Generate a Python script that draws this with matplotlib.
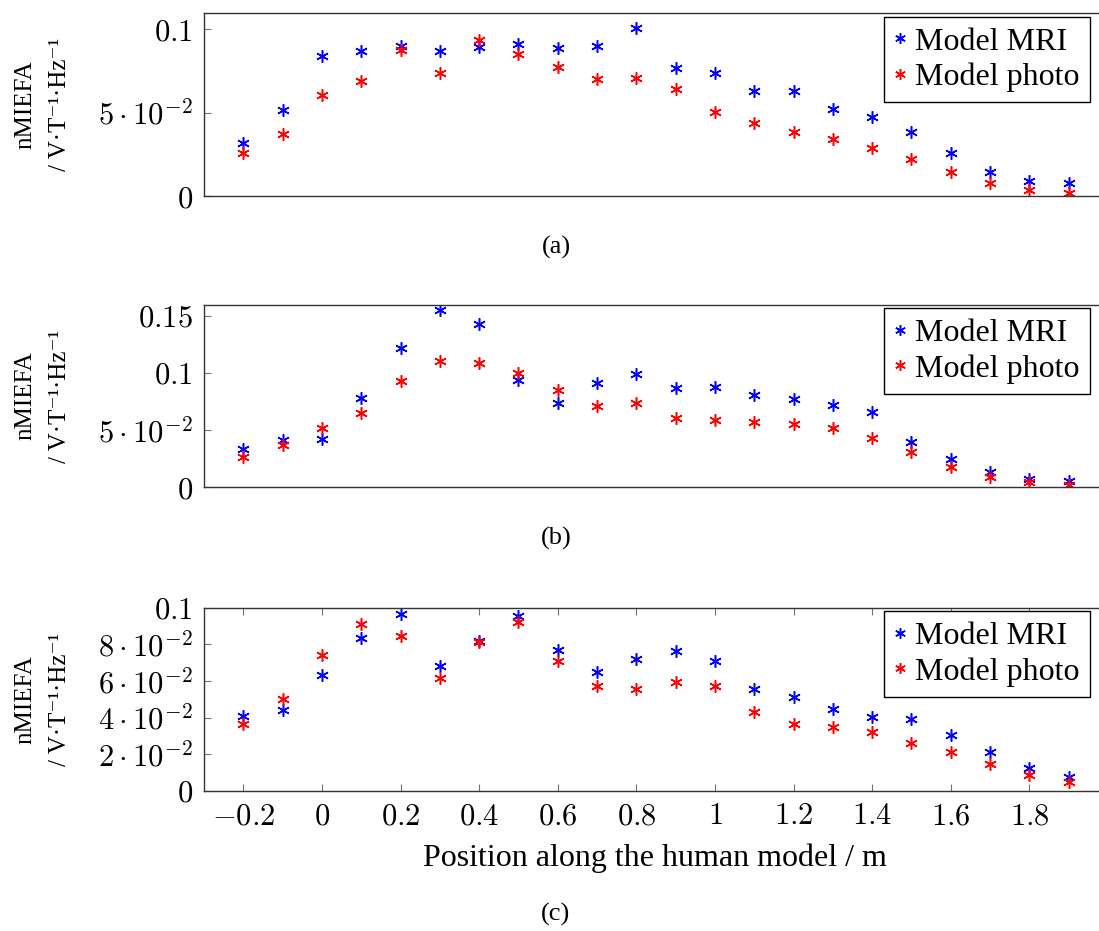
import matplotlib
matplotlib.use("Agg")
from matplotlib import pyplot as plt
from matplotlib.ticker import FixedLocator, FixedFormatter

plt.rcParams['font.family'] = ['Liberation Serif', 'DejaVu Serif']
plt.rcParams['mathtext.fontset'] = 'cm'

# positions along the model (m)
x = [-0.2, -0.1, 0.0, 0.1, 0.2, 0.3, 0.4, 0.5, 0.6, 0.7, 0.8,
     0.9, 1.0, 1.1, 1.2, 1.3, 1.4, 1.5, 1.6, 1.7, 1.8, 1.9]

mri_a = [0.0316, 0.0516, 0.084, 0.087, 0.090, 0.0872, 0.0892, 0.0912, 0.0886, 0.0898, 0.101,
         0.0766, 0.074, 0.0632, 0.063, 0.0522, 0.0472, 0.0384, 0.0256, 0.0142, 0.0092, 0.008]
photo_a = [0.0256, 0.0372, 0.0608, 0.0692, 0.0874, 0.074, 0.0936, 0.0852, 0.0772, 0.070, 0.0706,
           0.064, 0.0506, 0.0436, 0.0382, 0.0344, 0.0286, 0.0224, 0.0146, 0.0076, 0.0036, 0.002]

mri_b = [0.0338, 0.0413, 0.0422, 0.078, 0.1214, 0.1552, 0.143, 0.0938, 0.074, 0.0911, 0.099,
         0.0865, 0.0874, 0.0807, 0.0769, 0.0719, 0.0661, 0.0399, 0.025, 0.0137, 0.007, 0.0055]
photo_b = [0.0265, 0.0367, 0.0518, 0.065, 0.0929, 0.1104, 0.1083, 0.0996, 0.085, 0.0711, 0.074,
           0.0609, 0.0585, 0.0568, 0.055, 0.0515, 0.0428, 0.0306, 0.0175, 0.0087, 0.0044, 0.002]

mri_c = [0.0411, 0.044, 0.0633, 0.0836, 0.0965, 0.068, 0.0818, 0.0953, 0.0767, 0.0651, 0.0718,
         0.0765, 0.0711, 0.0555, 0.0515, 0.0447, 0.0402, 0.0391, 0.0305, 0.0211, 0.0127, 0.0078]
photo_c = [0.0367, 0.0502, 0.0744, 0.0909, 0.0844, 0.0618, 0.0811, 0.092, 0.0709, 0.0573, 0.0556,
           0.0593, 0.0575, 0.0429, 0.0364, 0.0349, 0.0322, 0.0264, 0.0215, 0.0145, 0.0087, 0.0051]

yticks_a = [0, 0.05, 0.1]
ylabels_a = ['$0$', r'$5\cdot10^{-2}$', '$0.1$']
yticks_b = [0, 0.05, 0.1, 0.15]
ylabels_b = ['$0$', r'$5\cdot10^{-2}$', '$0.1$', '$0.15$']
yticks_c = [0, 0.02, 0.04, 0.06, 0.08, 0.1]
ylabels_c = ['$0$', r'$2\cdot10^{-2}$', r'$4\cdot10^{-2}$', r'$6\cdot10^{-2}$',
             r'$8\cdot10^{-2}$', '$0.1$']
xticks_c = [-0.2, 0, 0.2, 0.4, 0.6, 0.8, 1, 1.2, 1.4, 1.6, 1.8]
xlabels_c = ['$-0.2$', '$0$', '$0.2$', '$0.4$', '$0.6$', '$0.8$', '$1$',
             '$1.2$', '$1.4$', '$1.6$', '$1.8$']

W, H = 1099, 931
fig = plt.figure(figsize=(W / 100, H / 100), dpi=100)

star = (6, 2, 0)


def panel(top, bottom, mri, photo, ymax, yt, yl, caption, cap_y, xt=None, xl=None):
    ax = fig.add_axes([204 / W, 1 - bottom / H, 904 / W, (bottom - top) / H])
    ax.plot(x, mri, linestyle='none', marker=star, ms=9, mew=1.1,
            color='#0000ff', label='Model MRI')
    ax.plot(x, photo, linestyle='none', marker=star, ms=9, mew=1.1,
            color='#ff0000', label='Model photo')
    ax.set_xlim(-0.3, 2.0)
    ax.set_ylim(0, ymax)
    ax.yaxis.set_major_locator(FixedLocator(yt))
    ax.yaxis.set_major_formatter(FixedFormatter(yl))
    if xt is None:
        ax.set_xticks([])
    else:
        ax.xaxis.set_major_locator(FixedLocator(xt))
        ax.xaxis.set_major_formatter(FixedFormatter(xl))
    ax.tick_params(direction='in', length=5, width=0.8, color='0.45',
                   labelsize=22, pad=8, left=True, right=True, top=True, bottom=True)
    for s in ax.spines.values():
        s.set_linewidth(1.0)
        s.set_color('0.2')
    leg = ax.legend(loc='upper right', bbox_to_anchor=(0.98, 0.98), borderaxespad=0,
                    fontsize=23, fancybox=False, framealpha=1, edgecolor='black',
                    handlelength=0.35, handletextpad=0.3, borderpad=0.33,
                    labelspacing=0.18, markerscale=0.85)
    leg.get_frame().set_linewidth(1.0)
    yc = 1 - (top + bottom) / 2 / H
    fig.text(25 / W, yc, 'nMIEFA', rotation=90, ha='center', va='center', fontsize=18)
    fig.text(60 / W, yc, '/ V·T⁻¹·Hz⁻¹', rotation=90, ha='center', va='center', fontsize=18)
    fig.text(556 / W, 1 - cap_y / H, caption, ha='center', va='center', fontsize=19)
    return ax


panel(13, 196, mri_a, photo_a, 0.1098, yticks_a, ylabels_a, '(a)', 247)
panel(304.7, 487.3, mri_b, photo_b, 0.1596, yticks_b, ylabels_b, '(b)', 538)
axc = panel(607.7, 791, mri_c, photo_c, 0.1, yticks_c, ylabels_c, '(c)', 914,
            xticks_c, xlabels_c)
fig.text(655 / W, 1 - 858 / H, 'Position along the human model / m',
         ha='center', va='center', fontsize=23)

fig.savefig('out.png', dpi=100)
